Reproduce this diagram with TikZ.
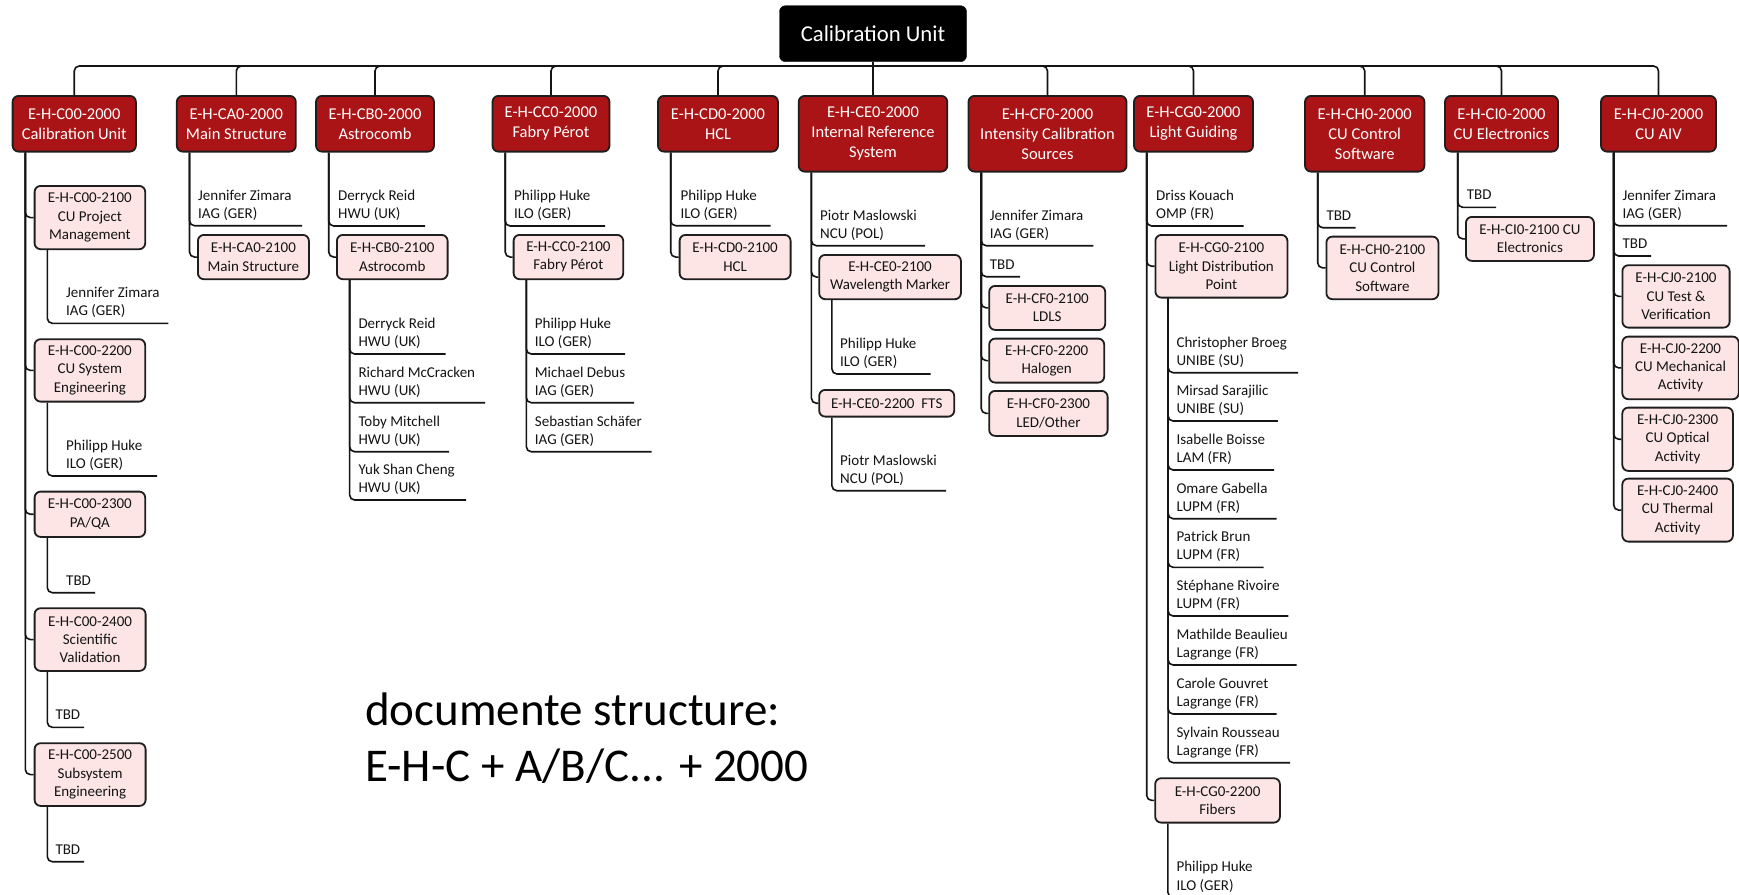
\documentclass[tikz,border=0pt]{standalone}
\usepackage{fontspec}
\setmainfont{Carlito}
\usetikzlibrary{calc}

\definecolor{wbsred}{RGB}{170,20,22}
\definecolor{wbspink}{RGB}{253,229,229}
\definecolor{edgec}{RGB}{30,30,30}
\definecolor{inkc}{RGB}{20,20,20}

% two text lines with fixed line height
\newcommand\twol[2]{#1\strut\\#2\strut}

% person / resource entry: name, parent, text x, underline y, underline end x, text
\newcommand\member[6]{%
  \node[who] (#1) at (#3,#4) {#6};
  \draw[conn] ($(#2.south west)+(13.6,0)$) |- ($(#1.south west)+(#5-#3,0)$);
}

% work package box: name, parent, x, y, width, height, text
\newcommand\wpkg[7]{%
  \node[lvltwo, minimum width=#5pt, minimum height=#6pt] (#1) at (#3,#4) {#7};
  \draw[conn] ($(#2.south west)+(13.6,0)$) |- (#1.west);
}

\begin{document}
\begin{tikzpicture}[x=1pt,y=-1pt,
  conn/.style={draw=inkc, line width=1.6pt, rounded corners=5pt},
  topbox/.style={draw=black, fill=black, text=white, rounded corners=6pt,
    inner sep=0pt, font=\fontsize{22.7}{27}\selectfont},
  lvlone/.style={draw=edgec, fill=wbsred, text=white, line width=1.8pt,
    rounded corners=6pt, align=center, inner sep=0pt, anchor=north,
    font=\fontsize{16.5}{20}\selectfont},
  lvltwo/.style={draw=edgec, fill=wbspink, text=inkc, line width=1.8pt,
    rounded corners=6pt, align=center, inner sep=0pt, anchor=north west,
    font=\fontsize{15}{18.3}\selectfont},
  who/.style={text=inkc, align=left, inner xsep=0pt, inner ysep=1.7pt,
    anchor=south west, font=\fontsize{15}{18.3}\selectfont},
  note/.style={text=black, inner sep=0pt, anchor=base west,
    font=\fontsize{47}{56}\selectfont}]

\clip (0,0) rectangle (1739,894);
\fill[white] (0,0) rectangle (1739,894);

% root
\node[topbox, minimum width=187pt, minimum height=56pt] (cu) at (873,33.7) {Calibration Unit};
\coordinate (bus) at (873,66);

% first level
\node[lvlone, minimum width=123.3pt, minimum height=55.7pt] (c00) at (74.25,95) {E-H-C00-2000\\Calibration Unit};
\node[lvlone, minimum width=119pt, minimum height=55.7pt] (ca0) at (236.3,95) {E-H-CA0-2000\\Main Structure};
\node[lvlone, minimum width=118pt, minimum height=55.7pt] (cb0) at (375,95) {E-H-CB0-2000\\Astrocomb};
\node[lvlone, minimum width=117pt, minimum height=55.7pt] (cc0) at (551,95) {E-H-CC0-2000\\Fabry Pérot};
\node[lvlone, minimum width=120pt, minimum height=55.7pt] (cd0) at (718,95) {E-H-CD0-2000\\HCL};
\node[lvlone, minimum width=148.6pt, minimum height=75.7pt] (ce0) at (873,95) {E-H-CE0-2000\\Internal Reference\\System};
\node[lvlone, minimum width=158pt, minimum height=75.7pt] (cf0) at (1047.5,95) {E-H-CF0-2000\\Intensity Calibration\\Sources};
\node[lvlone, minimum width=119pt, minimum height=55.7pt] (cg0) at (1193.5,95) {E-H-CG0-2000\\Light Guiding};
\node[lvlone, minimum width=119.4pt, minimum height=75.7pt] (ch0) at (1364.7,95) {E-H-CH0-2000\\CU Control\\Software};
\node[lvlone, minimum width=113pt, minimum height=55.7pt] (ci0) at (1501.5,95) {E-H-CI0-2000\\CU Electronics};
\node[lvlone, minimum width=115pt, minimum height=55.7pt] (cj0) at (1658.5,95) {E-H-CJ0-2000\\CU AIV};

% root bus
\draw[conn] (cu.south) -- (bus);
\foreach \n in {c00,ca0,cb0,cc0,cd0,cf0,cg0,ch0,ci0,cj0}
  \draw[conn] (bus) -| (\n.north);
\draw[conn] (bus) -- (ce0.north);

% E-H-C00-2000
\wpkg{c00a}{c00}{33.7}{185}{110.6}{63.3}{E-H-C00-2100\\CU Project\\Management}
\wpkg{c00b}{c00}{33.7}{338.3}{110.6}{62.4}{E-H-C00-2200\\CU System\\Engineering}
\wpkg{c00c}{c00}{33.7}{490.7}{110.6}{45.3}{E-H-C00-2300\\PA/QA}
\wpkg{c00d}{c00}{33.7}{607.3}{111}{62.7}{E-H-C00-2400\\Scientific\\Validation}
\wpkg{c00e}{c00}{33.7}{742.3}{111}{62.7}{E-H-C00-2500\\Subsystem\\Engineering}
\member{c00ap}{c00a}{66}{323.3}{168.4}{\twol{Jennifer Zimara}{IAG (GER)}}
\member{c00bp}{c00b}{66}{476}{157}{\twol{Philipp Huke}{ILO (GER)}}
\member{c00cp}{c00c}{66}{592.7}{95}{TBD\strut}
\member{c00dp}{c00d}{55.3}{727.3}{84.2}{TBD\strut}
\member{c00ep}{c00e}{55.3}{861.7}{84.2}{TBD\strut}

% E-H-CA0-2000
\member{ca0p}{ca0}{198}{225.7}{302}{\twol{Jennifer Zimara}{IAG (GER)}}
\wpkg{ca0a}{ca0}{197}{234}{111}{44.3}{E-H-CA0-2100\\Main Structure}

% E-H-CB0-2000
\member{cb0p}{cb0}{338}{226}{425}{\twol{Derryck Reid}{HWU (UK)}}
\wpkg{cb0a}{cb0}{336}{234}{110.7}{44.3}{E-H-CB0-2100\\Astrocomb}
\member{cb0ap}{cb0a}{358.3}{354}{445.7}{\twol{Derryck Reid}{HWU (UK)}}
\member{cb0aq}{cb0a}{358.3}{402.7}{485}{\twol{Richard McCracken}{HWU (UK)}}
\member{cb0ar}{cb0a}{358.3}{451.7}{449}{\twol{Toby Mitchell}{HWU (UK)}}
\member{cb0as}{cb0a}{358.3}{500}{466}{\twol{Yuk Shan Cheng}{HWU (UK)}}

% E-H-CC0-2000
\member{cc0p}{cc0}{514}{226}{605}{\twol{Philipp Huke}{ILO (GER)}}
\wpkg{cc0a}{cc0}{512.7}{234}{109.6}{44.3}{E-H-CC0-2100\\Fabry Pérot}
\member{cc0ap}{cc0a}{534.7}{354}{625}{\twol{Philipp Huke}{ILO (GER)}}
\member{cc0aq}{cc0a}{534.7}{402.7}{634}{\twol{Michael Debus}{IAG (GER)}}
\member{cc0ar}{cc0a}{534.7}{451.7}{651.7}{\twol{Sebastian Schäfer}{IAG (GER)}}

% E-H-CD0-2000
\member{cd0p}{cd0}{680.4}{225.7}{770.6}{\twol{Philipp Huke}{ILO (GER)}}
\wpkg{cd0a}{cd0}{678.7}{234}{111}{44.3}{E-H-CD0-2100\\HCL}

% E-H-CE0-2000
\member{ce0p}{ce0}{820}{245.7}{925}{\twol{Piotr Maslowski}{NCU (POL)}}
\wpkg{ce0a}{ce0}{818.3}{254}{141.7}{44.3}{E-H-CE0-2100\\Wavelength Marker}
\wpkg{ce0b}{ce0}{818.3}{389}{135}{26.7}{E-H-CE0-2200\ \ FTS}
\member{ce0ap}{ce0a}{840}{374}{930.7}{\twol{Philipp Huke}{ILO (GER)}}
\member{ce0bp}{ce0b}{840}{490.7}{946}{\twol{Piotr Maslowski}{NCU (POL)}}

% E-H-CF0-2000
\member{cf0p}{cf0}{989.7}{245.7}{1093.3}{\twol{Jennifer Zimara}{IAG (GER)}}
\member{cf0q}{cf0}{989.7}{276.7}{1020}{TBD\strut}
\wpkg{cf0a}{cf0}{988.3}{285}{116}{44}{E-H-CF0-2100\\LDLS}
\wpkg{cf0b}{cf0}{988.3}{337.7}{115}{44}{E-H-CF0-2200\\Halogen}
\wpkg{cf0c}{cf0}{988.3}{390}{118.4}{45}{E-H-CF0-2300\\LED/Other}

% E-H-CG0-2000
\member{cg0p}{cg0}{1156}{226}{1243.5}{\twol{Driss Kouach}{OMP (FR)}}
\wpkg{cg0a}{cg0}{1154.5}{234}{132}{62.7}{E-H-CG0-2100\\Light Distribution\\Point}
\wpkg{cg0b}{cg0}{1154.3}{777.3}{124.7}{44.4}{E-H-CG0-2200\\Fibers}
\member{cg0ap}{cg0a}{1176.3}{372.7}{1298}{\twol{Christopher Broeg}{UNIBE (SU)}}
\member{cg0aq}{cg0a}{1176.3}{421}{1277.8}{\twol{Mirsad Sarajilic}{UNIBE (SU)}}
\member{cg0ar}{cg0a}{1176.3}{470}{1274}{\twol{Isabelle Boisse}{LAM (FR)}}
\member{cg0as}{cg0a}{1176.3}{518.7}{1276.6}{\twol{Omare Gabella}{LUPM (FR)}}
\member{cg0at}{cg0a}{1176.3}{567.3}{1263.6}{\twol{Patrick Brun}{LUPM (FR)}}
\member{cg0au}{cg0a}{1176.3}{616}{1288.3}{\twol{Stéphane Rivoire}{LUPM (FR)}}
\member{cg0av}{cg0a}{1176.3}{665}{1296.7}{\twol{Mathilde Beaulieu}{Lagrange (FR)}}
\member{cg0aw}{cg0a}{1176.3}{714}{1276.7}{\twol{Carole Gouvret}{Lagrange (FR)}}
\member{cg0ax}{cg0a}{1176.3}{762.7}{1290}{\twol{Sylvain Rousseau}{Lagrange (FR)}}
\member{cg0bp}{cg0b}{1176.3}{897.4}{1265}{\twol{Philipp Huke}{ILO (GER)}}

% E-H-CH0-2000
\member{ch0p}{ch0}{1326.3}{227.7}{1355.7}{TBD\strut}
\wpkg{ch0a}{ch0}{1325.5}{235.7}{112}{62.6}{E-H-CH0-2100\\CU Control\\Software}

% E-H-CI0-2000
\member{ci0p}{ci0}{1466.6}{207.3}{1496}{TBD\strut}
\wpkg{ci0a}{ci0}{1465}{216}{128}{44}{E-H-CI0-2100 CU\\Electronics}

% E-H-CJ0-2000
\member{cj0p}{cj0}{1622.4}{225.7}{1727}{\twol{Jennifer Zimara}{IAG (GER)}}
\member{cj0q}{cj0}{1622.4}{256}{1651}{TBD\strut}
\wpkg{cj0a}{cj0}{1621.5}{264.3}{107.2}{62.4}{E-H-CJ0-2100\\CU Test \&\\Verification}
\wpkg{cj0b}{cj0}{1621.4}{335.7}{116.4}{62.6}{E-H-CJ0-2200\\CU Mechanical\\Activity}
\wpkg{cj0c}{cj0}{1621.4}{406.7}{110.6}{63.3}{E-H-CJ0-2300\\CU Optical\\Activity}
\wpkg{cj0d}{cj0}{1621.4}{477.7}{110.6}{63}{E-H-CJ0-2400\\CU Thermal\\Activity}

% numbering scheme
\node[note] (note1) at (365,725) {documente structure:};
\node[note] (note2) at (365,781.7) {E-H-C + A/B/C... + 2000};

\end{tikzpicture}
\end{document}
